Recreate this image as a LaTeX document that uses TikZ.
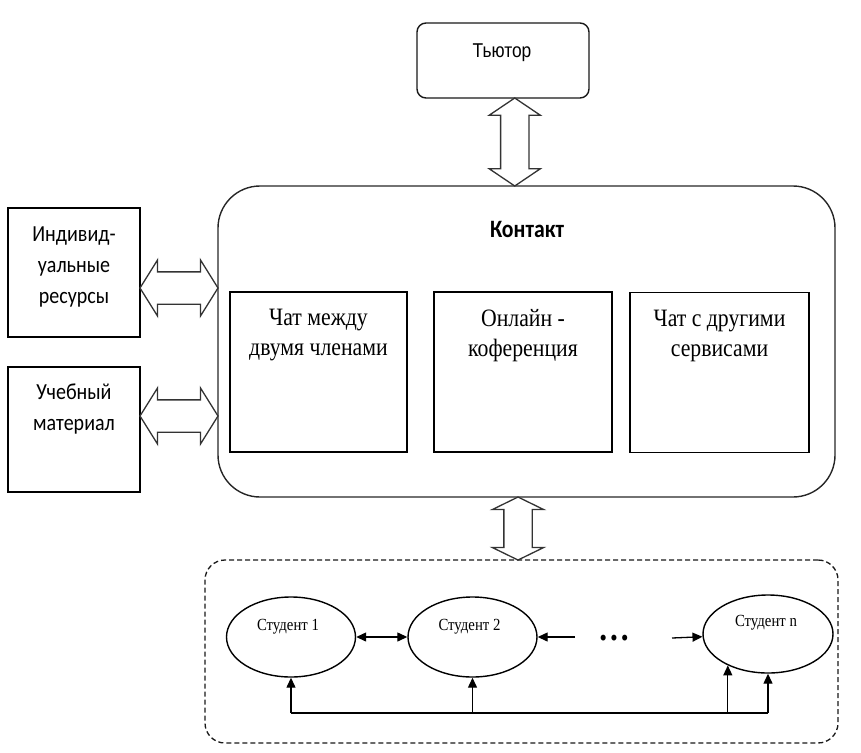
\documentclass[tikz,border=0pt]{standalone}
\usepackage{fontspec}
\usetikzlibrary{shapes.geometric,shapes.arrows,arrows.meta,calc}
\newfontfamily\serifc[FakeStretch=0.87]{Liberation Serif}
\newfontfamily\sansc[FakeStretch=0.87]{Carlito}
\newfontfamily\arialc[FakeStretch=0.87]{Liberation Sans}
\begin{document}
\begin{tikzpicture}[x=1pt,y=-1pt,
  sqbox/.style={draw=black, line width=1.4pt, inner sep=0pt, fill=white},
  mainbox/.style={draw=black!85, line width=1.4pt, rounded corners=42pt, inner sep=0pt},
  tutbox/.style={draw=black!90, line width=1.4pt, rounded corners=9pt, inner sep=0pt},
  grpbox/.style={draw=black!90, line width=1.3pt, dash pattern=on 5pt off 3pt, rounded corners=20pt, inner sep=0pt},
  stud/.style={ellipse, draw=black, line width=1.4pt, inner sep=0pt},
  dbl/.style={double arrow, draw=black!80, line width=1.3pt, fill=white, inner xsep=0pt, inner ysep=13.5pt, double arrow head extend=11.5pt, double arrow tip angle=112},
  sanslbl/.style={font=\sansc\fontsize{23}{31}\selectfont, align=center, inner sep=0pt, anchor=north},
  seriflbl/.style={font=\serifc\fontsize{25}{30}\selectfont, align=center, inner sep=0pt, anchor=north},
  studlbl/.style={font=\serifc\fontsize{17}{20}\selectfont, inner sep=0pt},
  link/.style={line width=1.3pt, draw=black},
  tip/.style={-{Triangle[length=10pt,width=9pt]}},
]
\useasboundingbox (0,0) rectangle (861,752);

% tutor
\node[tutbox, minimum width=172pt, minimum height=75pt] (tutor) at (503,60.5) {};
\node[font=\arialc\fontsize{20}{24}\selectfont, inner sep=0pt, anchor=base] (tutorlbl) at (502,57) {Тьютор};

% main contact box
\node[mainbox, minimum width=617pt, minimum height=311pt] (main) at (526.5,341.5) {};
\node[font=\sansc\bfseries\fontsize{25}{30}\selectfont, inner sep=0pt] (contact) at (527,229) {Контакт};

% inner boxes
\node[sqbox, minimum width=177pt, minimum height=160pt] (b1) at (318.5,372) {};
\node[sqbox, minimum width=178pt, minimum height=160pt] (b2) at (523,372) {};
\node[sqbox, minimum width=179pt, minimum height=160pt] (b3) at (719.5,372.5) {};
\node[seriflbl] (b1lbl) at ($(b1.north)+(0,18)$) {Чат между\\двумя членами};
\node[seriflbl] (b2lbl) at ($(b2.north)+(0,18)$) {Онлайн -\\коференция};
\node[seriflbl] (b3lbl) at ($(b3.north)+(0,18)$) {Чат с другими\\сервисами};

% left boxes
\node[sqbox, minimum width=132pt, minimum height=129pt] (res) at (74,272.5) {};
\node[sqbox, minimum width=132pt, minimum height=125pt] (mat) at (74,429.5) {};
\node[sanslbl] (reslbl) at ($(res.north)+(0,19)$) {Индивид-\\уальные\\ресурсы};
\node[sanslbl] (matlbl) at ($(mat.north)+(0,17)$) {Учебный\\материал};

% student group
\node[grpbox, minimum width=633pt, minimum height=183pt] (grp) at (521.5,651.5) {};
\node[stud, minimum width=129pt, minimum height=80pt] (S1) at (291,637) {};
\node[stud, minimum width=129pt, minimum height=80pt] (S2) at (472.5,637) {};
\node[stud, minimum width=130pt, minimum height=78pt] (Sn) at (768,634) {};
\node[studlbl] (S1lbl) at ($(S1.center)+(-3,-10)$) {Студент 1};
\node[studlbl] (S2lbl) at ($(S2.center)+(-3,-10)$) {Студент 2};
\node[studlbl] (Snlbl) at ($(Sn.center)+(-2,-11)$) {Студент n};
\node[font=\serifc\bfseries\fontsize{36}{36}\selectfont, inner sep=0pt, anchor=base] (dots) at (614,640) {.\hspace{3pt}.\hspace{3pt}.};

% hollow double arrows
\node[dbl, minimum height=88pt, rotate=90] (arT) at ($(tutor.south)!.5!(main.north)$) {};
\node[dbl, minimum height=63pt, rotate=90, double arrow tip angle=128] (arB) at ($(main.south)!.5!(grp.north)+(-6,0)$) {};
\node[dbl, minimum height=78pt, inner ysep=15.5pt, double arrow head extend=12pt, double arrow tip angle=116] (arA) at (179,288) {};
\node[dbl, minimum height=78pt, inner ysep=15.5pt, double arrow head extend=12pt, double arrow tip angle=116] (arM) at (179,416) {};

% student links
\coordinate (bus) at (0,713);
\coordinate (d1) at (575,637);
\coordinate (d2) at (672,638);
\draw[link, {Triangle[length=10pt,width=9pt]}-{Triangle[length=10pt,width=9pt]}] (S1.east) -- (S2.west);
\draw[link, tip] (d1) -- (S2.east);
\draw[link, tip] (d2) -- (Sn);
\draw[link] (S1.south |- bus) -- (Sn.south |- bus);
\draw[link, tip] (S1.south |- bus) -- (S1.south);
\draw[link, tip] (S2.south |- bus) -- (S2.south);
\draw[link, tip] (Sn.218 |- bus) -- (Sn.218);
\draw[link, tip] (Sn.south |- bus) -- (Sn.south);
\end{tikzpicture}
\end{document}
